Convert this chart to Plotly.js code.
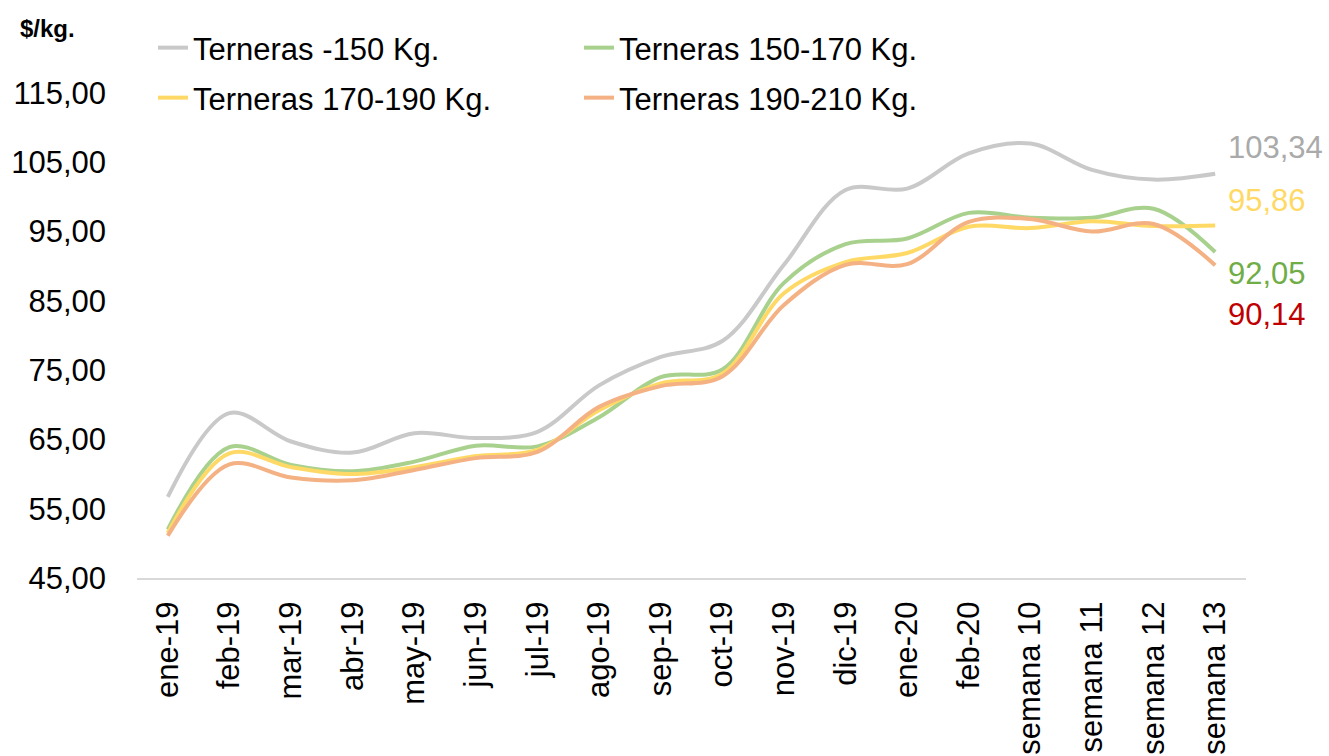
<!DOCTYPE html>
<html>
<head>
<meta charset="utf-8">
<script src="https://cdn.plot.ly/plotly-3.0.1.min.js"></script>
<style>html,body{margin:0;padding:0;background:#fff;}#chart{width:1329px;height:756px;}</style>
</head>
<body>
<div id="chart"></div>
<script>
var categories = ["ene-19","feb-19","mar-19","abr-19","may-19","jun-19","jul-19","ago-19","sep-19","oct-19","nov-19","dic-19","ene-20","feb-20","semana 10","semana 11","semana 12","semana 13"];
var seriesNames = ["Terneras -150 Kg.","Terneras 150-170 Kg.","Terneras 170-190 Kg.","Terneras 190-210 Kg."];
var terneras150 = [56.7,68.8,64.7,63.1,65.9,65.2,66.1,72.8,76.9,79.2,90.2,101.0,101.2,106.3,107.7,103.9,102.5,103.34];
var terneras150170 = [52.0,63.9,61.3,60.4,61.8,64.1,64.0,68.2,74.0,75.1,87.6,93.2,94.0,97.7,97.0,97.0,98.3,92.05];
var terneras170190 = [51.5,63.0,61.0,60.0,61.0,62.6,63.5,69.2,73.1,74.5,86.1,90.6,91.9,95.7,95.5,96.5,95.8,95.86];
var terneras190210 = [51.1,61.4,59.5,59.1,60.6,62.3,63.2,69.7,72.7,74.1,84.4,90.2,90.3,96.4,96.8,95.0,96.1,90.14];
var yTicks = [45,55,65,75,85,95,105,115];

var FONT = "Liberation Sans, Arial, sans-serif";
var values = [terneras150, terneras150170, terneras170190, terneras190210];
var colors = ["#c9c9c9","#a9d18e","#ffd966","#f4b183"];
var labelColors = ["#aaaaaa","#70ad47","#ffd966","#c00000"];
var labelShift = [26, -21, 25, -49];
var legendIds = ["legend","legend2","legend3","legend4"];
// legend placement in pixels: [left, vertical centre]
var legendPos = [[153,48],[579,48],[153,98],[579,98]];

var traces = values.map(function(v,i){
  return {x: categories, y: v, name: seriesNames[i], type:"scatter", mode:"lines", legend: legendIds[i],
    line:{color:colors[i], width:4, shape:"spline", smoothing:1}, hoverinfo:"none"};
});
var annotations = values.map(function(v,i){
  var last = v[v.length-1];
  return {x: categories[categories.length-1], y: last, xref:"x", yref:"y",
    text: last.toFixed(2).replace(".", ","), showarrow:false, xanchor:"left", xshift:11,
    yshift: labelShift[i], font:{family:FONT, size:31, color:labelColors[i]}};
});
annotations.push({xref:"paper", yref:"paper", x:(47-137)/1109, y:(578-28)/485, xanchor:"center", yanchor:"middle",
  text:"<b>$/kg.</b>", showarrow:false, font:{family:FONT, size:24, color:"#000"}});

function legendCfg(p){
  return {orientation:"h", x:(p[0]-137)/1109, y:(578-p[1])/485, xanchor:"left", yanchor:"middle",
    font:{family:FONT, size:31, color:"#000"}, bgcolor:"rgba(0,0,0,0)"};
}

var layout = {
  width:1329, height:756,
  margin:{l:137, r:83, t:93, b:178, autoexpand:false},
  paper_bgcolor:"#fff", plot_bgcolor:"#fff",
  separators:",.",
  showlegend:true,
  legend: legendCfg(legendPos[0]),
  legend2: legendCfg(legendPos[1]),
  legend3: legendCfg(legendPos[2]),
  legend4: legendCfg(legendPos[3]),
  xaxis:{type:"category", range:[-0.5,17.5], tickangle:-90, showgrid:false, zeroline:false,
    showline:true, linecolor:"#d9d9d9", linewidth:2, ticks:"", ticklabelstandoff:9,
    tickfont:{family:FONT, size:31, color:"#000"}, fixedrange:true},
  yaxis:{range:[45,115], tickvals:yTicks, tickformat:".2f", showgrid:false, zeroline:false,
    showline:false, ticks:"", ticklabelstandoff:30,
    tickfont:{family:FONT, size:31, color:"#000"}, fixedrange:true},
  annotations: annotations
};
Plotly.newPlot("chart", traces, layout, {displayModeBar:false, staticPlot:true});
</script>
</body>
</html>
